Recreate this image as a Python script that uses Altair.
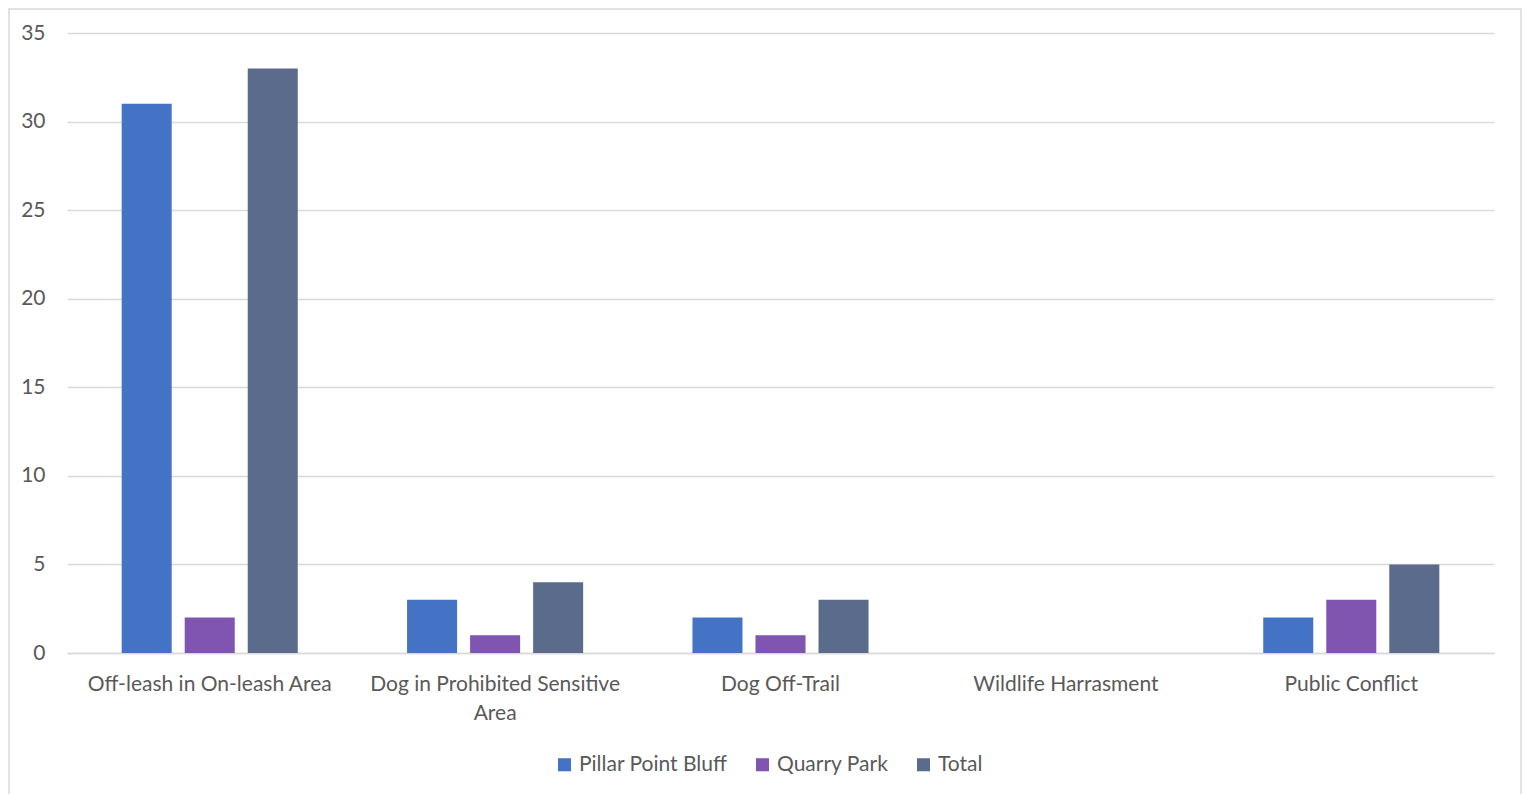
import altair as alt
import pandas as pd

categories = ["Off-leash in On-leash Area", "Dog in Prohibited Sensitive Area",
              "Dog Off-Trail", "Wildlife Harrasment", "Public Conflict"]
series = ["Pillar Point Bluff", "Quarry Park", "Total"]
pillar_point_bluff = [31, 3, 2, 0, 2]
quarry_park = [2, 1, 1, 0, 3]
total = [33, 4, 3, 0, 5]
colors = ["#4472C4", "#7F55B1", "#5A6B8B"]

rows = []
for i, c in enumerate(categories):
    for s, vals in zip(series, [pillar_point_bluff, quarry_park, total]):
        rows.append({"category": c, "series": s, "value": vals[i]})
df = pd.DataFrame(rows)

FONT = "Lato"
TXT = "#595959"
FS = 21
W, H = 1427, 620

bars = alt.Chart(df).mark_bar().encode(
    x=alt.X("category:N", sort=categories, title=None,
            scale=alt.Scale(paddingInner=0.383, paddingOuter=0.1916),
            axis=alt.Axis(labelAngle=0, ticks=False, domain=True, domainColor="#D9D9D9",
                          domainWidth=1.3, labelPadding=20, labelFontSize=FS, labelColor=TXT,
                          labelFont=FONT, labelLimit=0, labelLineHeight=29, grid=False,
                          labelExpr="datum.label == 'Dog in Prohibited Sensitive Area' ? ['Dog in Prohibited Sensitive', 'Area'] : datum.label")),
    xOffset=alt.XOffset("series:N", sort=series,
                        scale=alt.Scale(paddingInner=0.2063, paddingOuter=0)),
    y=alt.Y("value:Q", title=None,
            scale=alt.Scale(domain=[0, 35], nice=False),
            axis=alt.Axis(values=[0, 5, 10, 15, 20, 25, 30, 35], ticks=False, domain=False,
                          gridColor="#D9D9D9", gridWidth=1.3, labelPadding=22,
                          labelFontSize=FS, labelColor=TXT, labelFont=FONT)),
    color=alt.Color("series:N", sort=series, title=None,
                    scale=alt.Scale(domain=series, range=colors),
                    legend=alt.Legend(orient="none", legendX=487, legendY=721,
                                      direction="horizontal", symbolType="square",
                                      symbolSize=170, symbolStrokeWidth=0,
                                      labelFontSize=FS, labelColor=TXT, labelFont=FONT,
                                      labelLimit=0, labelOffset=4, columnPadding=24)),
)

border_df = pd.DataFrame({"b": [0]})
border = alt.Chart(border_df).mark_rect(fill=None, stroke="#D9D9D9", strokeWidth=1.5).encode(
    x=alt.value(-58), x2=alt.value(1454), y=alt.value(-24), y2=alt.value(762)
)

chart = alt.layer(border, bars).properties(
    width=W, height=H,
    padding={"left": 59, "top": 25, "right": 28, "bottom": 141},
    autosize=alt.AutoSizeParams(type="none"),
    background="white",
).configure_view(strokeWidth=0, stroke="transparent")

chart.save("out.html", embed_options={"renderer": "svg", "actions": False})
